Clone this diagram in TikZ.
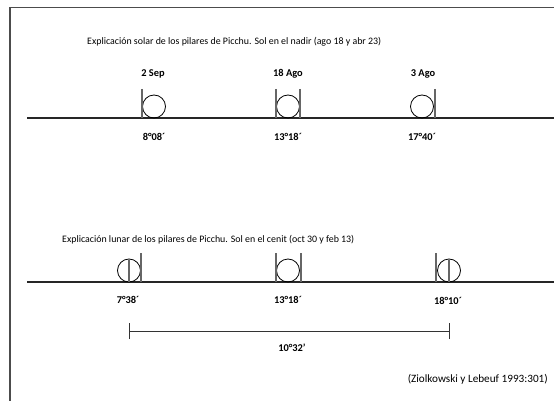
\documentclass[tikz,border=0pt]{standalone}
\usepackage{fontspec}
\setmainfont{Carlito}
\begin{document}
\begin{tikzpicture}[x=1pt,y=-1pt,
  frame/.style={draw=black!70,line width=1.6pt},
  axis/.style={draw=black!85,line width=1.4pt},
  pillar/.style={draw=black!60,line width=1.1pt},
  sun/.style={circle,draw=black,line width=0.8pt,minimum size=23pt,inner sep=0pt},
  title/.style={anchor=west,font=\fontsize{9.9}{11}\selectfont,inner sep=0pt},
  lab/.style={font=\bfseries\fontsize{10.4}{12}\selectfont,inner sep=0pt},
  cite/.style={anchor=east,font=\fontsize{11.2}{13}\selectfont,inner sep=0pt}]
\useasboundingbox (0,0) rectangle (554,401);
% frame
\draw[frame] (10,402) -- (10,7.5) -- (555,7.5);
% ---- solar section
\node[title] (t1) at (87,42) {Explicación solar de los pilares de Picchu. Sol en el nadir (ago 18 y abr 23)};
\coordinate (a1l) at (27,118);
\coordinate (a1r) at (555,118);
\draw[axis] (a1l) -- (a1r);
% group 1
\node[sun] (s1) at (154,106.5) {};
\draw[pillar] (142,89) -- (142,118);
% group 2
\node[sun] (s2) at (288,106.5) {};
\draw[pillar] (276,89) -- (276,118);
\draw[pillar] (300,89) -- (300,118);
% group 3
\node[sun] (s3) at (422,106.5) {};
\draw[pillar] (435,89) -- (435,118);
\node[lab] (d1) at (153,74) {2 Sep};
\node[lab] (d2) at (288,74) {18 Ago};
\node[lab] (d3) at (423,74) {3 Ago};
\node[lab] (g1) at (154,137) {8°08´};
\node[lab] (g2) at (288,137) {13°18´};
\node[lab] (g3) at (422,137) {17°40´};
% ---- lunar section
\node[title] (t2) at (62,240) {Explicación lunar de los pilares de Picchu. Sol en el cenit (oct 30 y feb 13)};
\coordinate (a2l) at (27,282);
\coordinate (a2r) at (555,282);
\draw[axis] (a2l) -- (a2r);
% group 1
\node[sun] (m1) at (129,270.5) {};
\draw[pillar] (m1.north) ++(0,1) -- (m1.south);
\draw[pillar] (141,253) -- (141,282);
% group 2
\node[sun] (m2) at (288,270.5) {};
\draw[pillar] (276,253) -- (276,282);
\draw[pillar] (301,253) -- (301,282);
% group 3
\node[sun] (m3) at (449,270.5) {};
\draw[pillar] (m3.north) ++(0,1) -- (m3.south);
\draw[pillar] (436,253) -- (436,282);
\node[lab] (h1) at (128,300) {7°38´};
\node[lab] (h2) at (288,300) {13°18´};
\node[lab] (h3) at (448,301) {18°10´};
% scale bar
\coordinate (b1) at (129,331);
\coordinate (b2) at (449,331);
\draw[black!80,line width=0.9pt] (b1) -- (b2);
\draw[black!80,line width=0.9pt] ([yshift=-8pt]b1) -- ([yshift=8pt]b1);
\draw[black!80,line width=0.9pt] ([yshift=-8pt]b2) -- ([yshift=8pt]b2);
\node[lab] (bl) at (292,348) {10°32’};
% citation
\node[cite] (c) at (548,379) {(Ziolkowski y Lebeuf 1993:301)};
\end{tikzpicture}
\end{document}
